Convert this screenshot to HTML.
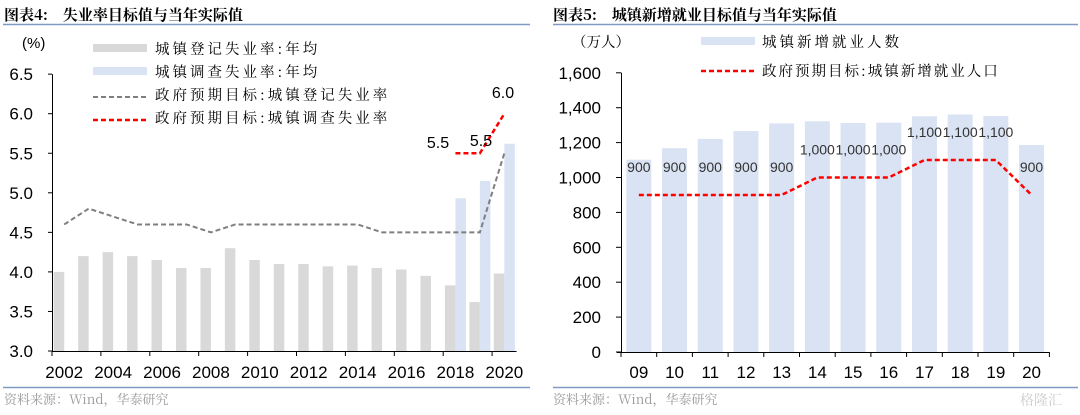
<!DOCTYPE html>
<html><head><meta charset="utf-8">
<style>
html,body{margin:0;padding:0;background:#fff;width:1080px;height:415px;overflow:hidden}
svg{display:block}
text{font-family:"Liberation Sans","Noto Sans CJK SC",sans-serif}
.cn{font-family:"Noto Serif CJK SC","Noto Sans CJK SC",serif}
.lg{letter-spacing:3px}
</style></head><body>
<svg id="s" width="1080" height="415" viewBox="0 0 1080 415" xmlns="http://www.w3.org/2000/svg">
<text x="4" y="20" font-size="15" font-weight="bold" class="cn" fill="#000">图表4:　失业率目标值与当年实际值</text>
<line x1="3" y1="24.5" x2="530" y2="24.5" stroke="#7f9ac4" stroke-width="1.5"/>
<text x="553" y="20" font-size="15" font-weight="bold" class="cn" fill="#000">图表5:　城镇新增就业目标值与当年实际值</text>
<line x1="553" y1="24.5" x2="1078" y2="24.5" stroke="#7f9ac4" stroke-width="1.5"/>
<line x1="3" y1="387.5" x2="530" y2="387.5" stroke="#7f9ac4" stroke-width="1.5"/>
<line x1="553" y1="387.5" x2="1078" y2="387.5" stroke="#7f9ac4" stroke-width="1.5"/>
<text x="4" y="404" font-size="13" fill="#999" class="cn">资料来源：Wind，华泰研究</text>
<text x="553" y="404" font-size="13" fill="#999" class="cn">资料来源：Wind，华泰研究</text>
<text x="1020" y="405" font-size="14" fill="#ccc" class="cn">格隆汇</text>
<g id="L"></g><g id="R"></g>
</svg>
<script>
var NS="http://www.w3.org/2000/svg";
function el(p,t,a,txt){var e=document.createElementNS(NS,t);for(var k in a)e.setAttribute(k,a[k]);if(txt!=null)e.textContent=txt;p.appendChild(e);return e;}
var L=document.getElementById("L");
var x0=52,cw=24.45,yb=351;function ly(v){return yb-(v-3)*79.1;}
el(L,"text",{x:22,y:48,"font-size":15},"(%)");
el(L,"rect",{x:93,y:44,width:54,height:8,fill:"#d9d9d9"});
el(L,"rect",{x:93,y:67,width:54,height:8,fill:"#dae3f3"});
el(L,"line",{x1:93,y1:97,x2:147,y2:97,stroke:"#7f7f7f","stroke-width":2,"stroke-dasharray":"5,3"});
el(L,"line",{x1:93,y1:120,x2:147,y2:120,stroke:"#ff0000","stroke-width":2.5,"stroke-dasharray":"5,3"});
var lt=["城镇登记失业率:年均","城镇调查失业率:年均","政府预期目标:城镇登记失业率","政府预期目标:城镇调查失业率"];
for(var i=0;i<4;i++)el(L,"text",{x:155,y:54+i*23,"font-size":14.5,"class":"cn lg"},lt[i]);
var g=[4.0,4.2,4.25,4.2,4.15,4.05,4.05,4.3,4.15,4.1,4.1,4.07,4.08,4.05,4.03,3.95,3.83,3.62,3.98];
var b={16:4.93,17:5.15,18:5.62};
for(var i=0;i<19;i++){var c=x0+cw*(i+0.5);
 el(L,"rect",{x:c-10.5,y:ly(g[i]),width:10.5,height:yb-ly(g[i]),fill:"#d9d9d9"});
 if(b[i])el(L,"rect",{x:c,y:ly(b[i]),width:10.5,height:yb-ly(b[i]),fill:"#dae3f3"});}
var gl=[4.6,4.8,4.7,4.6,4.6,4.6,4.5,4.6,4.6,4.6,4.6,4.6,4.6,4.5,4.5,4.5,4.5,4.5,5.5];
var pts=gl.map(function(v,i){return (x0+cw*(i+0.5))+","+ly(v)}).join(" ");
el(L,"polyline",{points:pts,fill:"none",stroke:"#7f7f7f","stroke-width":2,"stroke-dasharray":"5,3"});
var rp=[[16,5.5],[17,5.5],[18,6.0]].map(function(a){return (x0+cw*(a[0]+0.5))+","+ly(a[1])}).join(" ");
el(L,"polyline",{points:rp,fill:"none",stroke:"#ff0000","stroke-width":2.5,"stroke-dasharray":"5,3"});
el(L,"text",{x:438,y:148,"font-size":16,"text-anchor":"middle"},"5.5");
el(L,"text",{x:481,y:146,"font-size":16,"text-anchor":"middle"},"5.5");
el(L,"text",{x:503,y:98,"font-size":16,"text-anchor":"middle"},"6.0");
el(L,"line",{x1:x0+0.5,y1:ly(6.5),x2:x0+0.5,y2:yb,stroke:"#000"});
el(L,"line",{x1:x0,y1:yb+0.5,x2:x0+cw*19,y2:yb+0.5,stroke:"#000"});
for(var v=3;v<=6.51;v+=0.5){el(L,"line",{x1:x0-4,y1:ly(v),x2:x0,y2:ly(v),stroke:"#000"});
 el(L,"text",{x:33,y:ly(v)+6,"font-size":17,"text-anchor":"end"},v.toFixed(1));}
for(var i=0;i<=18;i+=2){var tx=x0+cw*i;el(L,"line",{x1:tx,y1:yb,x2:tx,y2:yb+5,stroke:"#000"});
 el(L,"text",{x:tx+cw/2,y:378,"font-size":17,"text-anchor":"middle"},String(2002+i));}
var R=document.getElementById("R");
var rx0=621,rcw=35.7,rb=352;function ry(v){return rb-v*0.1745;}
el(R,"text",{x:572,y:47,"font-size":14.5,"class":"cn"},"（万人）");
el(R,"rect",{x:701,y:37,width:54,height:8,fill:"#dae3f3"});
el(R,"line",{x1:701,y1:71,x2:755,y2:71,stroke:"#ff0000","stroke-width":2.5,"stroke-dasharray":"5,3"});
el(R,"text",{x:762,y:47,"font-size":14.5,"class":"cn lg"},"城镇新增就业人数");
el(R,"text",{x:762,y:76,"font-size":14.5,"class":"cn",style:"letter-spacing:2px"},"政府预期目标:城镇新增就业人口");
var bv=[1102,1168,1221,1266,1310,1322,1312,1314,1351,1361,1352,1186];
var tv=[900,900,900,900,900,1000,1000,1000,1100,1100,1100,900];
for(var i=0;i<12;i++){var c=rx0+rcw*(i+0.5);
 el(R,"rect",{x:c-12.5,y:ry(bv[i]),width:25,height:rb-ry(bv[i]),fill:"#dae3f3"});}
var rp2=tv.map(function(v,i){return (rx0+rcw*(i+0.5))+","+ry(v)}).join(" ");
el(R,"polyline",{points:rp2,fill:"none",stroke:"#ff0000","stroke-width":2.5,"stroke-dasharray":"5,3"});
for(var i=0;i<12;i++){var c=rx0+rcw*(i+0.5);var lab=tv[i]>=1000?(tv[i]/1000|0)+","+String(tv[i]%1000).padStart(3,"0"):String(tv[i]);
 el(R,"text",{x:c,y:ry(tv[i])-23,"font-size":14,"text-anchor":"middle",fill:"#333"},lab);}
el(R,"line",{x1:rx0+0.5,y1:ry(1600),x2:rx0+0.5,y2:rb,stroke:"#000"});
el(R,"line",{x1:rx0-4,y1:rb+0.5,x2:rx0+rcw*12,y2:rb+0.5,stroke:"#000"});
for(var v=0;v<=1600;v+=200){el(R,"line",{x1:rx0-5,y1:ry(v),x2:rx0,y2:ry(v),stroke:"#000"});
 el(R,"text",{x:601,y:ry(v)+6,"font-size":17,"text-anchor":"end"},v>=1000?"1,"+String(v%1000).padStart(3,"0"):String(v));}
for(var i=0;i<=12;i++){var tx=rx0+rcw*i;el(R,"line",{x1:tx,y1:rb,x2:tx,y2:rb+5,stroke:"#000"});
 if(i<12)el(R,"text",{x:tx+rcw/2,y:378,"font-size":17,"text-anchor":"middle"},String(9+i).padStart(2,"0"));}
</script>
</body></html>
